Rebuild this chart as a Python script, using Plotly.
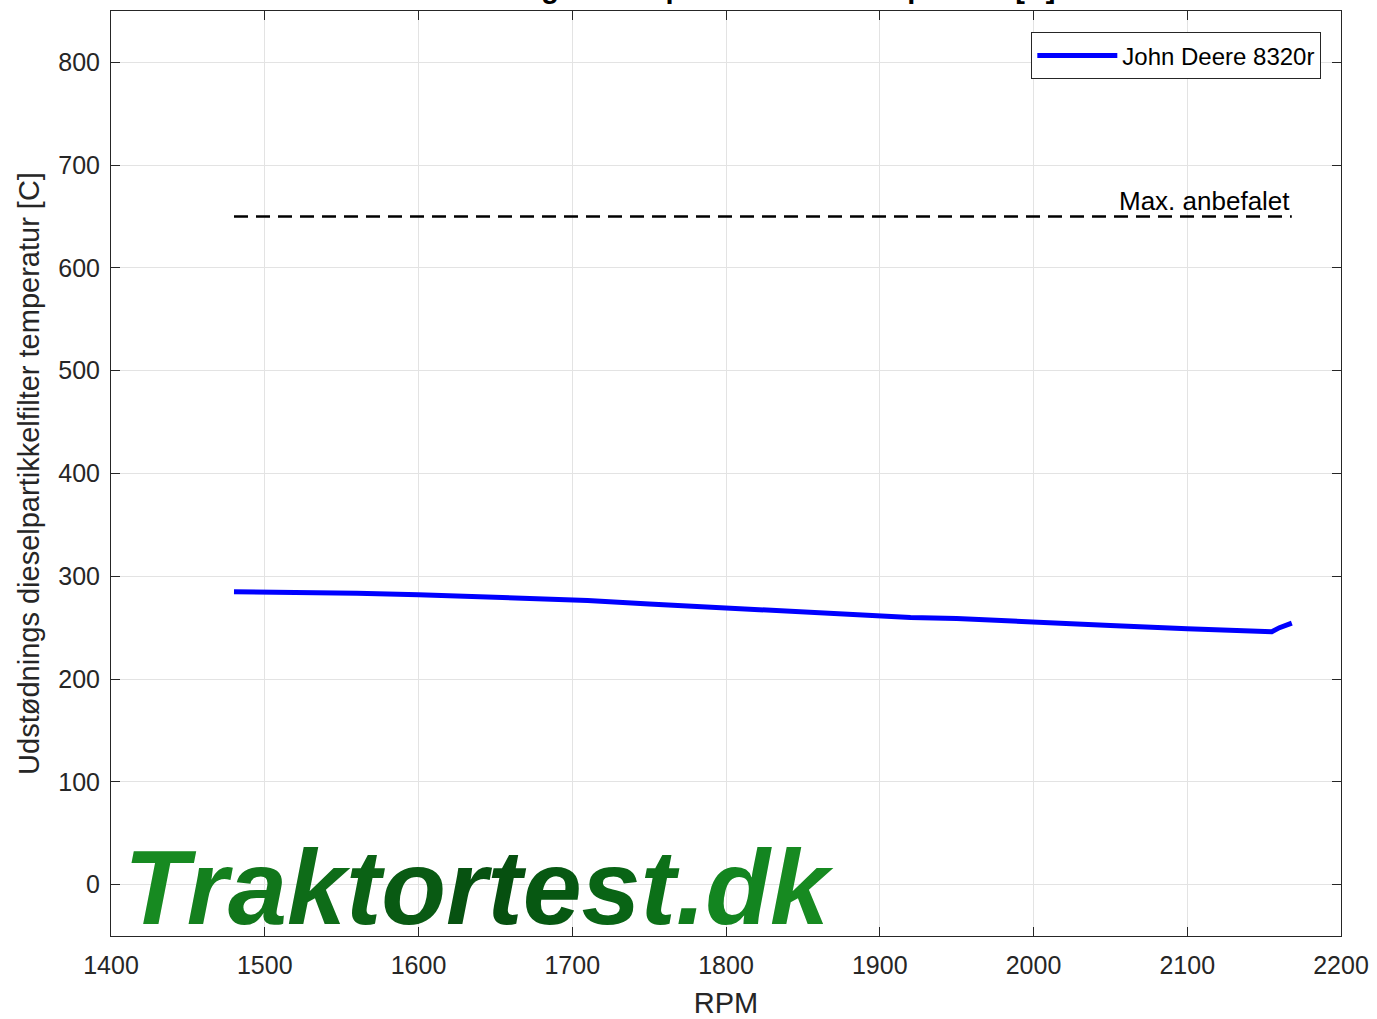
import plotly.graph_objects as go

# Data
rpm = [1480, 1520, 1560, 1600, 1650, 1695, 1710, 1750, 1800, 1850, 1900, 1920,
       1950, 2000, 2010, 2050, 2100, 2140, 2148, 2155, 2160, 2168]
temp = [285, 284.5, 283.5, 282, 280, 278, 276.5, 273, 269, 266, 262, 260,
        259, 255, 255, 252, 249, 247, 245.5, 246, 250, 254.5]
max_rpm = [1480, 2168]
max_temp = [650, 650]
series_name = "John Deere 8320r"
max_label = "Max. anbefalet"
title_text = "Udstødnings dieselpartikkelfilter temperatur [C]"
x_title = "RPM"
y_title = "Udstødnings dieselpartikkelfilter temperatur [C]"
x_ticks = [1400, 1500, 1600, 1700, 1800, 1900, 2000, 2100, 2200]
y_ticks = [0, 100, 200, 300, 400, 500, 600, 700, 800]
watermark = "Traktortest.dk"
wm_colors = ["#178a21", "#14801e", "#11761b", "#0e6c18", "#0b6215", "#095a13",
             "#075211", "#065010", "#075812", "#096415", "#0c7018", "#107c1c",
             "#138520", "#178a21"]

FONT = "Liberation Sans, Arial, sans-serif"
TXT = "#262626"

fig = go.Figure()
fig.add_trace(go.Scatter(x=max_rpm, y=max_temp, mode="lines",
                         line=dict(color="black", width=2.6, dash="14px,8px"),
                         showlegend=False, hoverinfo="skip"))
fig.add_trace(go.Scatter(x=rpm, y=temp, mode="lines", name=series_name,
                         line=dict(color="#0000ff", width=5)))

fig.add_annotation(x=max_rpm[-1], y=max_temp[-1], xref="x", yref="y",
                   text=max_label, showarrow=False, xanchor="right", yanchor="bottom",
                   yshift=-1, font=dict(family=FONT, size=26, color="black"))

wm_text = "".join(f'<span style="color:{c}">{ch}</span>' for ch, c in zip(watermark, wm_colors))
fig.add_annotation(x=0.009, y=0.0, xref="paper", yref="paper",
                   text=f"<b><i>{wm_text}</i></b>", showarrow=False,
                   xanchor="left", yanchor="bottom", yshift=-12,
                   font=dict(family=FONT, size=106, color="#0e6c18"))

fig.add_annotation(x=0.5, y=1, xref="paper", yref="paper", text=f"<b>{title_text}</b>",
                   showarrow=False, xanchor="center", yanchor="bottom", yshift=5,
                   font=dict(family=FONT, size=29, color="black"))

axis_common = dict(showline=True, linecolor=TXT, linewidth=1, mirror="ticks",
                   ticks="inside", ticklen=9, tickcolor=TXT, automargin=False,
                   showgrid=True, gridcolor="#e3e3e3", gridwidth=1, zeroline=False,
                   tickfont=dict(family=FONT, size=25, color=TXT))
fig.update_xaxes(range=[1400, 2200], tickvals=x_ticks, ticklabelstandoff=7,
                 title=dict(text=x_title, font=dict(family=FONT, size=29, color=TXT), standoff=21),
                 **axis_common)
fig.update_yaxes(range=[-50, 850], tickvals=y_ticks, ticklabelstandoff=5,
                 title=dict(text=y_title, font=dict(family=FONT, size=29, color=TXT), standoff=10),
                 **axis_common)

fig.update_layout(width=1377, height=1019, margin=dict(l=111, r=36, t=11, b=83),
                  plot_bgcolor="white", paper_bgcolor="white",
                  font=dict(family=FONT, color=TXT),
                  legend=dict(x=0.984, y=0.977, xanchor="right", yanchor="top",
                              bgcolor="white", bordercolor=TXT, borderwidth=1,
                              font=dict(family=FONT, size=24, color="black"),
                              itemwidth=80))

fig.write_html("out.html", config={"displayModeBar": False},
               post_script="document.body.style.margin='0';")
